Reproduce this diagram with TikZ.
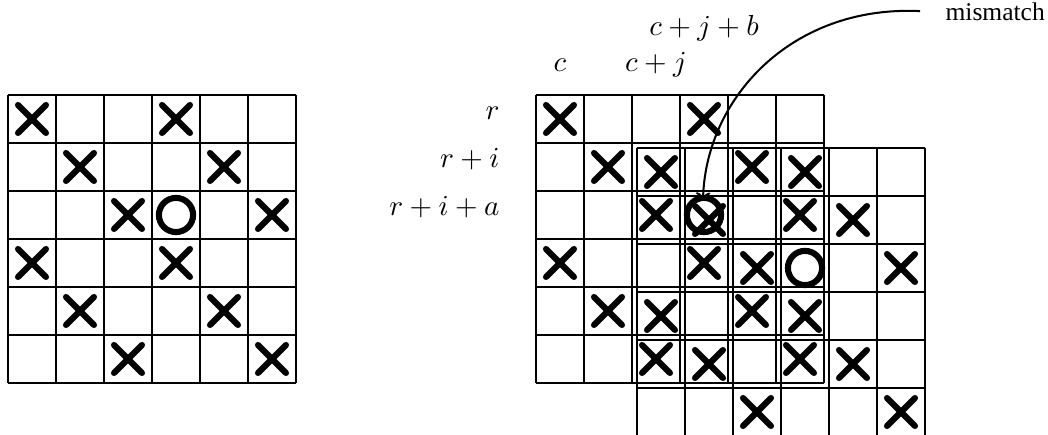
\documentclass[tikz,border=0pt]{standalone}
\usepackage{fontspec}
\usetikzlibrary{arrows.meta}
\newfontfamily\labelfont{Liberation Serif}

% one 6x6 board with its marks, top left corner at (#1,#2)
\newcommand{\drawboard}[2]{%
  \begin{scope}[shift={(#1,#2)}]
    \foreach \k in {0,...,6} {
      \draw[boardline] (\k*48,0) -- (\k*48,288);
      \draw[boardline] (0,\k*48) -- (288,\k*48);
    }
    \foreach \c/\r in {0/0,3/0,1/1,4/1,2/2,5/2,0/3,3/3,1/4,4/4,2/5,5/5}
      \draw[xmark] (\c*48+10,\r*48+10) -- ++(28,28)
                   (\c*48+38,\r*48+10) -- ++(-28,28);
    \draw[omark] (3*48+24,2*48+24) circle[radius=5.9pt];
  \end{scope}}

\begin{document}
\begin{tikzpicture}[
    x=0.345pt, y=-0.345pt,
    boardline/.style={line width=0.7pt},
    xmark/.style={line width=2.1pt, line cap=round},
    omark/.style={line width=2.1pt},
    lab/.style={inner sep=0pt},
    pointer/.style={-{To[length=3pt,width=5pt]}, line width=0.7pt}
]
    \useasboundingbox (0,0) rectangle (1048,435);

    % left board
    \drawboard{8}{95}

    % right: board and its shifted copy
    \drawboard{536}{95}
    \drawboard{637}{148}

    % column and row labels
    \node[lab, anchor=base] (colc) at (560,72) {$c$};
    \node[lab, anchor=base] (colcj) at (656,72) {$c+j$};
    \node[lab, anchor=base] (colcjb) at (704,36) {$c+j+b$};
    \node[lab, anchor=base east] (rowr) at (500,120) {$r$};
    \node[lab, anchor=base east] (rowri) at (500,168) {$r+i$};
    \node[lab, anchor=base east] (rowria) at (500,216) {$r+i+a$};

    % mismatch pointer
    \node[lab, anchor=base west] (mismatch) at (945,21)
        {\labelfont\fontsize{8.8}{10}\selectfont mismatch};
    \coordinate (clash) at (703,201);
    \draw[pointer, shorten <=8.6pt] (mismatch.west)
        .. controls (790,5) and (705,100) .. (clash);
\end{tikzpicture}
\end{document}
